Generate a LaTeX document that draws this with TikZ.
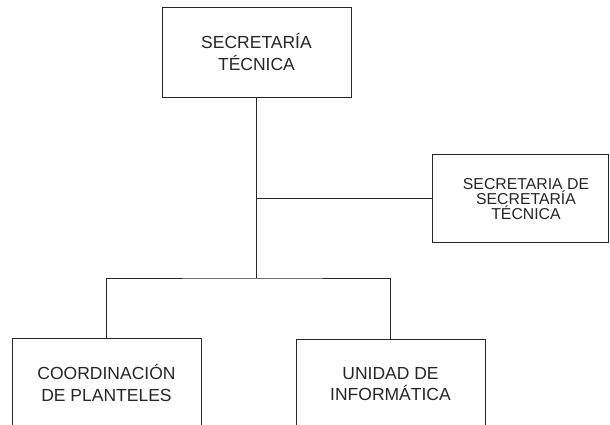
\documentclass[tikz,border=0pt]{standalone}
\usepackage{fontspec}
\setmainfont{Liberation Sans}
\begin{document}
\begin{tikzpicture}[x=1pt,y=-1pt,
  orgbox/.style={draw=black!85, line width=1pt, fill=white, align=center, text=black!85, inner sep=0pt},
  bigtext/.style={font=\fontsize{17.5}{21.5}\selectfont},
  smalltext/.style={font=\fontsize{15.8}{15}\selectfont},
  link/.style={draw=black!85, line width=1pt}]
\useasboundingbox (0,0) rectangle (610,424);
\node[orgbox, bigtext, minimum width=189pt, minimum height=90pt] (top) at (256.5,52) {SECRETARÍA\\TÉCNICA};
\node[orgbox, minimum width=176pt, minimum height=88pt,
  label={[smalltext, align=center, text=black!85, xshift=6pt, yshift=-1pt]center:SECRETARIA DE\\SECRETARÍA\\TÉCNICA}] (sec) at (520,198) {};
\node[orgbox, bigtext, minimum width=189pt, minimum height=90pt] (coord) at (106.5,383) {COORDINACIÓN\\DE PLANTELES};
\node[orgbox, bigtext, minimum width=189pt, minimum height=90pt] (info) at (390.5,384) {UNIDAD DE\\INFORMÁTICA};
\coordinate (j1) at (256.5,198);
\coordinate (j2) at (256.5,278);
\draw[link] (top.south) -- (j2);
\draw[link] (j1) -- (sec.west);
\draw[link] (coord.north) |- (j2) -| (info.north);
\end{tikzpicture}
\end{document}
